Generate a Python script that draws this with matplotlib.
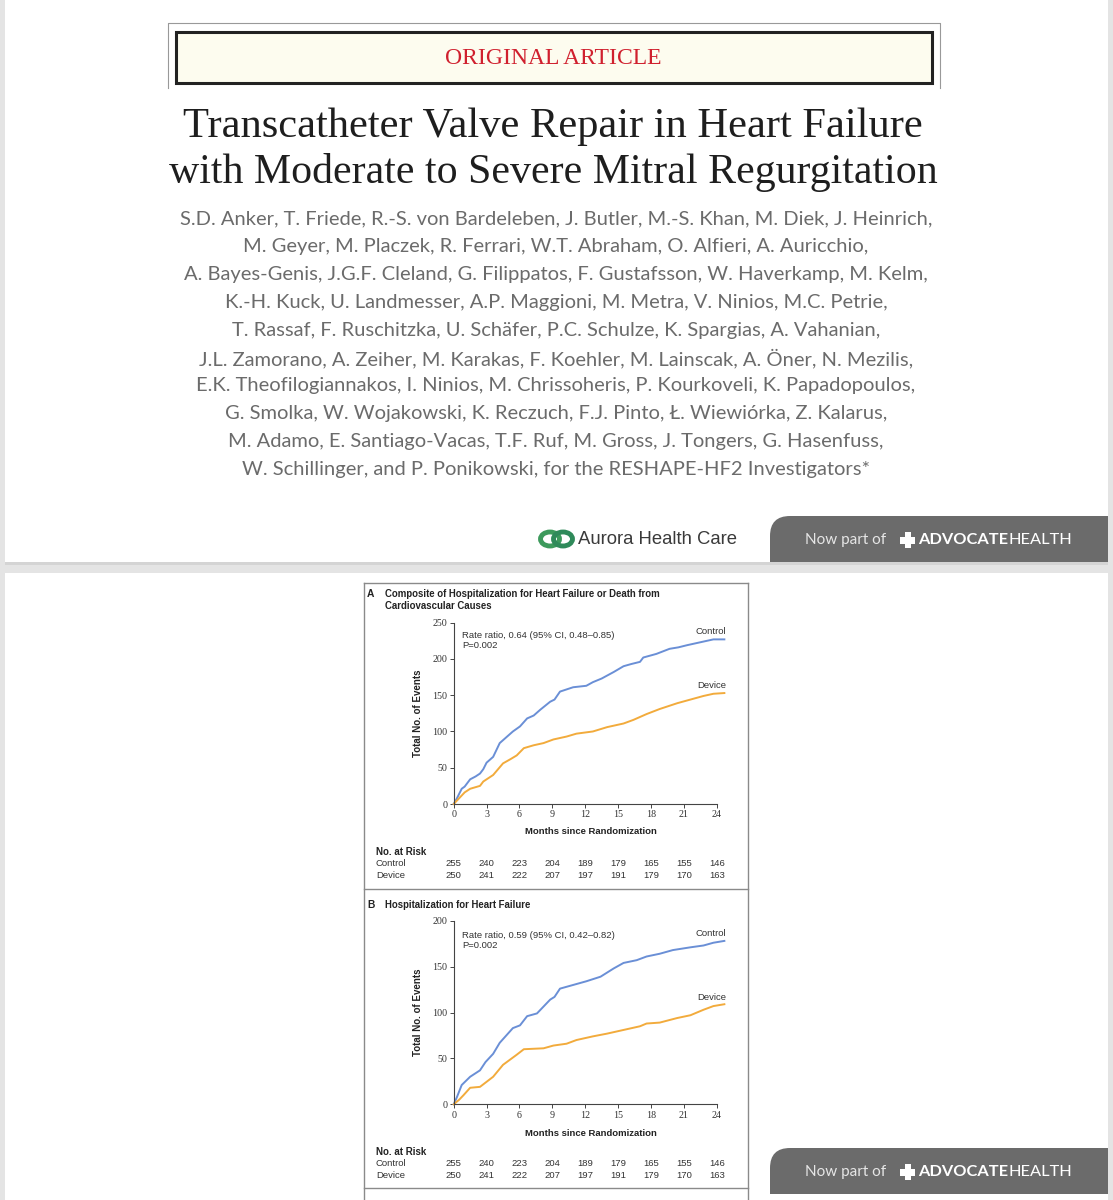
import matplotlib.pyplot as plt
import matplotlib.transforms as mtransforms
from matplotlib.patches import Rectangle, FancyBboxPatch, Ellipse

W, H = 1113, 1200

# ---- data ----
months_ticks = [0, 3, 6, 9, 12, 15, 18, 21, 24]

a_ctrl_x = [0, 0.3, 0.73, 1.0, 1.5, 2.0, 2.4, 2.7, 3.0, 3.6, 4.2, 4.8, 5.4, 6.05, 6.7, 7.3, 7.9,
            8.8, 9.2, 9.7, 10.3, 10.9, 12.1, 12.7, 13.5, 14.6, 15.5, 16.2, 17.0, 17.3, 18.5,
            19.7, 20.5, 21.3, 22.8, 23.7, 24.7]
a_ctrl_y = [0, 8, 21, 24, 34, 38, 42, 48, 57, 65, 84, 92, 100, 107, 118, 122, 130,
            141, 144, 155, 158, 161, 163, 168, 173, 182, 190, 193, 196, 202, 207,
            214, 216, 219, 224, 227, 227]
a_dev_x = [0, 0.5, 1.0, 1.5, 2.4, 2.7, 3.6, 4.5, 5.2, 5.75, 6.4, 7.3, 8.2, 9.1, 10.3, 11.2,
           12.7, 14.0, 15.5, 16.4, 17.6, 18.8, 20.4, 21.6, 22.8, 23.7, 24.7]
a_dev_y = [0, 8, 16, 21, 25, 31, 40, 56, 62, 67, 77, 81, 84, 89, 93, 97,
           100, 106, 111, 116, 124, 131, 139, 144, 149, 152, 153]

b_ctrl_x = [0, 0.3, 0.73, 1.5, 2.4, 2.9, 3.6, 4.2, 4.8, 5.4, 6.05, 6.7, 7.6, 8.8, 9.2, 9.7,
            10.9, 12.1, 13.4, 14.6, 15.5, 16.7, 17.6, 18.8, 20.0, 21.6, 22.8, 23.7, 24.7]
b_ctrl_y = [0, 8, 21, 30, 37, 46, 55, 67, 75, 83, 86, 96, 99, 114, 117, 126,
            130, 134, 139, 148, 154, 157, 161, 164, 168, 171, 173, 176, 178]
b_dev_x = [0, 0.5, 0.9, 1.5, 2.4, 3.6, 4.5, 5.75, 6.4, 8.2, 9.1, 10.3, 11.2, 12.7, 14.0,
           15.5, 17.0, 17.6, 18.8, 20.4, 21.6, 22.8, 23.7, 24.7]
b_dev_y = [0, 5, 10, 18, 19, 30, 43, 54, 60, 61, 64, 66, 70, 74, 77,
           81, 85, 88, 89, 94, 97, 103, 107, 109]

risk_ctrl = [255, 240, 223, 204, 189, 179, 165, 155, 146]
risk_dev = [250, 241, 222, 207, 197, 191, 179, 170, 163]

authors = [
    "S.D. Anker, T. Friede, R.-S. von Bardeleben, J. Butler, M.-S. Khan, M. Diek, J. Heinrich,",
    "M. Geyer, M. Placzek, R. Ferrari, W.T. Abraham, O. Alfieri, A. Auricchio,",
    "A. Bayes-Genis, J.G.F. Cleland, G. Filippatos, F. Gustafsson, W. Haverkamp, M. Kelm,",
    "K.-H. Kuck, U. Landmesser, A.P. Maggioni, M. Metra, V. Ninios, M.C. Petrie,",
    "T. Rassaf, F. Ruschitzka, U. Schäfer, P.C. Schulze, K. Spargias, A. Vahanian,",
    "J.L. Zamorano, A. Zeiher, M. Karakas, F. Koehler, M. Lainscak, A. Öner, N. Mezilis,",
    "E.K. Theofilogiannakos, I. Ninios, M. Chrissoheris, P. Kourkoveli, K. Papadopoulos,",
    "G. Smolka, W. Wojakowski, K. Reczuch, F.J. Pinto, Ł. Wiewiórka, Z. Kalarus,",
    "M. Adamo, E. Santiago-Vacas, T.F. Ruf, M. Gross, J. Tongers, G. Hasenfuss,",
    "W. Schillinger, and P. Ponikowski, for the RESHAPE-HF2 Investigators*",
]

BLUE = '#6a8fd6'
ORANGE = '#f2ab3c'
SANS = 'Liberation Sans'
SERIF = 'Liberation Serif'
FS = 6.8  # chart text size

fig = plt.figure(figsize=(W / 100, H / 100), dpi=100)
fig.patch.set_facecolor('#e4e4e4')

# background canvas in pixel coordinates
bg = fig.add_axes([0, 0, 1, 1])
bg.set_xlim(0, W)
bg.set_ylim(H, 0)
bg.axis('off')

bg.add_patch(Rectangle((5, 0), 1103, 562, fc='white', ec='none'))
bg.add_patch(Rectangle((5, 573), 1103, 630, fc='white', ec='none'))
bg.add_patch(Rectangle((5, 562), 1103, 3, fc='#d4d4d4', ec='none'))

# header box
bg.plot([168, 168, 940, 940], [88, 23, 23, 88], color='#999999', lw=0.8)
bg.add_patch(Rectangle((176, 32), 756, 51, fc='#fdfcef', ec='#222222', lw=2.2))
bg.text(553, 58, 'ORIGINAL ARTICLE', color='#d0202e', fontsize=17, family=SERIF,
        ha='center', va='center')

bg.text(553, 127, 'Transcatheter Valve Repair in Heart Failure', fontsize=30.6,
        family=SERIF, color='#1e1e1e', ha='center', va='center')
bg.text(553, 172, 'with Moderate to Severe Mitral Regurgitation', fontsize=30.2,
        family=SERIF, color='#1e1e1e', ha='center', va='center')

for i, line in enumerate(authors):
    bg.text(556, 219 + i * 27.8, line, fontsize=14.5, family='Lato', color='#6b6b6b',
            ha='center', va='center')


# aurora / advocate banners
def advocate_tab(y0):
    tab = FancyBboxPatch((770, y0), 400, 90, boxstyle='round,pad=0,rounding_size=20',
                         fc='#6b6b6b', ec='none')
    bg.add_patch(tab)
    tab.set_clip_path(Rectangle((770, y0), 338, 46, transform=bg.transData))
    yc = y0 + 24
    bg.text(805, yc, 'Now part of', fontsize=11, family='Lato', color='#e6e6e6',
            ha='left', va='center')
    bg.add_patch(Rectangle((900, yc - 3), 15, 6.5, fc='white', ec='none'))
    bg.add_patch(Rectangle((904.5, yc - 8), 6.5, 16, fc='white', ec='none'))
    t = bg.text(918, yc, 'ADVOCATE', fontsize=11.8, family='Lato', weight='bold',
                color='white', ha='left', va='center')
    bg.annotate('HEALTH', xy=(1, 0.5), xycoords=t, fontsize=11.8, family='Lato',
                color='white', ha='left', va='center')


advocate_tab(516)
advocate_tab(1148)

bg.add_patch(Ellipse((550, 539), 19, 14, fc='none', ec='#3d9a5c', lw=3.5))
bg.add_patch(Ellipse((563, 539), 19, 14, fc='none', ec='#2f8a5a', lw=3.5))
bg.text(578, 540, 'Aurora Health Care', fontsize=13.3, family=SANS, color='#3a3a3a',
        ha='left', va='center')

# figure frame
fc = '#8a8a8a'
bg.plot([364, 364], [583, 1200], color=fc, lw=1)
bg.plot([748, 748], [583, 1200], color=fc, lw=1)
bg.plot([364, 748], [583, 583], color=fc, lw=1)
bg.plot([364, 748], [889, 889], color=fc, lw=1)
bg.plot([364, 748], [1188, 1188], color=fc, lw=1)

X0, X1 = 453.7, 716.7


def panel(letter, title_lines, top, bottom, ymax, ystep, cx, cy, dx, dy,
          ratio, y_title, y_text, y_ctrl, y_dev, y_xlab, y_risk):
    ax = fig.add_axes([X0 / W, 1 - bottom / H, (X1 - X0) / W, (bottom - top) / H])
    ax.patch.set_alpha(0)
    ax.plot(cx, cy, color=BLUE, lw=1.4, clip_on=False)
    ax.plot(dx, dy, color=ORANGE, lw=1.4, clip_on=False)
    ax.set_xlim(0, 24)
    ax.set_ylim(0, ymax)
    ax.set_xticks(months_ticks)
    ax.set_yticks(range(0, ymax + 1, ystep))
    for s in ['top', 'right']:
        ax.spines[s].set_visible(False)
    for s in ['left', 'bottom']:
        ax.spines[s].set_color('#444444')
        ax.spines[s].set_linewidth(0.8)
    ax.tick_params(direction='out', length=3, width=0.7, color='#444444',
                   labelsize=7.2, pad=1.5, labelcolor='#333333')
    for lab in ax.get_xticklabels() + ax.get_yticklabels():
        lab.set_family(SERIF)

    bg.text(367, y_title, letter, fontsize=7.4, weight='bold', family=SANS,
            color='#222222', ha='left', va='center')
    for k, tl in enumerate(title_lines):
        bg.text(385, y_title + 12 * k, tl, fontsize=6.9, weight='bold', family=SANS,
                color='#222222', ha='left', va='center')
    bg.text(462, y_text, ratio, fontsize=FS, family=SANS, color='#333333',
            ha='left', va='center')
    bg.text(462, y_text + 11, 'P=0.002', fontsize=FS, family=SANS, color='#333333',
            ha='left', va='center')
    bg.text(726, y_ctrl, 'Control', fontsize=FS, family=SANS, color='#333333',
            ha='right', va='center')
    bg.text(726, y_dev, 'Device', fontsize=FS, family=SANS, color='#333333',
            ha='right', va='center')
    bg.text(418, (top + bottom) / 2, 'Total No. of Events', fontsize=7, weight='bold',
            family=SANS, color='#222222', rotation=90, ha='center', va='center')
    bg.text(591, y_xlab, 'Months since Randomization', fontsize=6.8, weight='bold',
            family=SANS, color='#222222', ha='center', va='center')

    bg.text(376, y_risk, 'No. at Risk', fontsize=7, weight='bold', family=SANS,
            color='#222222', ha='left', va='center')
    bg.text(376, y_risk + 12, 'Control', fontsize=FS, family=SANS, color='#333333',
            ha='left', va='center')
    bg.text(376, y_risk + 23, 'Device', fontsize=FS, family=SANS, color='#333333',
            ha='left', va='center')
    tr = mtransforms.blended_transform_factory(ax.transData, bg.transData)
    for m, rc, rd in zip(months_ticks, risk_ctrl, risk_dev):
        ax.text(m, y_risk + 12, str(rc), transform=tr, fontsize=FS, family=SANS,
                color='#333333', ha='center', va='center', clip_on=False)
        ax.text(m, y_risk + 23, str(rd), transform=tr, fontsize=FS, family=SANS,
                color='#333333', ha='center', va='center', clip_on=False)


panel('A', ['Composite of Hospitalization for Heart Failure or Death from',
            'Cardiovascular Causes'],
      622.7, 804, 250, 50, a_ctrl_x, a_ctrl_y, a_dev_x, a_dev_y,
      'Rate ratio, 0.64 (95% CI, 0.48\u20130.85)',
      594, 635, 632, 686, 832, 852)

panel('B', ['Hospitalization for Heart Failure'],
      920.7, 1104.3, 200, 50, b_ctrl_x, b_ctrl_y, b_dev_x, b_dev_y,
      'Rate ratio, 0.59 (95% CI, 0.42\u20130.82)',
      905, 935, 933, 997, 1133, 1152)

fig.savefig('out.png', dpi=100)
